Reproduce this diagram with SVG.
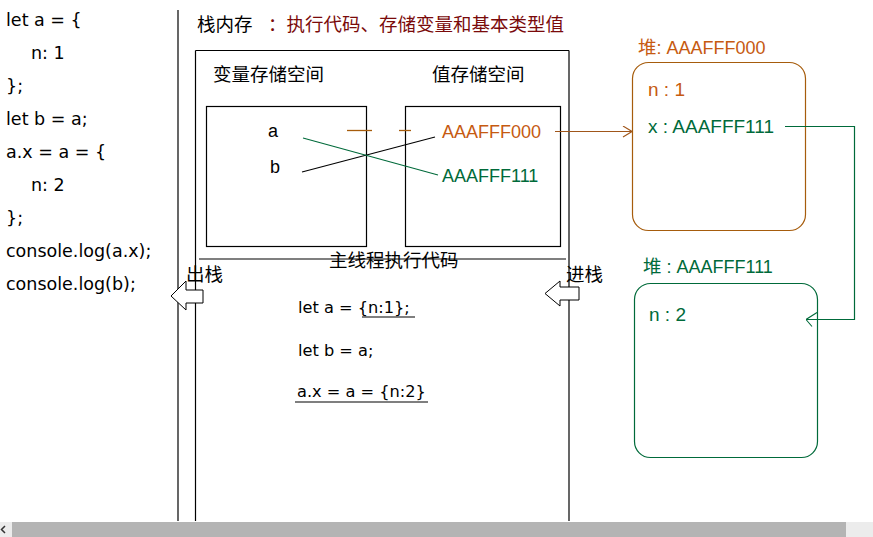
<svg xmlns="http://www.w3.org/2000/svg" width="873" height="537" viewBox="0 0 873 537">
<style>
.code{font-family:"DejaVu Sans","Noto Sans CJK SC",sans-serif;font-size:17.5px;fill:#000}
.cn{font-family:"Noto Sans CJK SC","DejaVu Sans",sans-serif;font-size:18.5px;fill:#000}
.lat{font-family:"Liberation Sans","Noto Sans CJK SC",sans-serif;font-size:18px}
.ln{stroke:#000;stroke-width:1.2;fill:none}
.org{fill:#c65a11}
.grn{fill:#006a3a}
</style>
<defs>
<marker id="arrO" viewBox="0 0 10 12" refX="10" refY="6" markerWidth="10" markerHeight="12" markerUnits="userSpaceOnUse" orient="auto">
<path d="M1,0.5 L10,6 L1,11.5" fill="none" stroke="#a0561a" stroke-width="1.1"/>
</marker>
<marker id="arrG" viewBox="0 0 12 16" refX="12" refY="8" markerWidth="12" markerHeight="16" markerUnits="userSpaceOnUse" orient="auto">
<path d="M6,1 L12,8 L1,15" fill="none" stroke="#006a3a" stroke-width="1.1"/>
</marker>
</defs>
<rect width="873" height="537" fill="#fff"/>

<g id="source-code">
<text class="code" x="6" y="26">let a = {</text>
<text class="code" x="31" y="59">n: 1</text>
<text class="code" x="6" y="92">};</text>
<text class="code" x="6" y="125">let b = a;</text>
<text class="code" x="6" y="158">a.x = a = {</text>
<text class="code" x="31" y="191">n: 2</text>
<text class="code" x="6" y="224">};</text>
<text class="code" x="6" y="257">console.log(a.x);</text>
<text class="code" x="6" y="290">console.log(b);</text>
</g>

<g id="stack">
<line class="ln" x1="178" y1="10" x2="178" y2="521"/>
<line class="ln" x1="195.5" y1="50.5" x2="195.5" y2="521"/>
<line class="ln" x1="569" y1="50.5" x2="569" y2="521"/>
<line class="ln" x1="195.5" y1="50.5" x2="569" y2="50.5"/>
<text class="cn" x="197" y="31">栈内存<tspan x="268" fill="#7a0a0a">：执行代码、存储变量和基本类型值</tspan></text>
</g>

<g id="var-space">
<text class="cn" x="213" y="81">变量存储空间</text>
<rect class="ln" x="206.5" y="106.5" width="160" height="140"/>
<text class="lat" x="268" y="137" fill="#000">a</text>
<text class="lat" x="270" y="173" fill="#000">b</text>
</g>

<g id="value-space">
<text class="cn" x="432" y="81">值存储空间</text>
<rect class="ln" x="405.5" y="106.5" width="155" height="140"/>
<text class="lat org" x="442" y="138">AAAFFF000</text>
<text class="lat grn" x="442" y="182">AAAFFF111</text>
</g>

<g id="main-thread">
<line class="ln" x1="199" y1="259" x2="566" y2="259"/>
<text class="cn" x="329" y="267">主线程执行代码</text>
<text class="code" x="298" y="313" style="font-size:16.2px">let a = {n:1};</text>
<line class="ln" x1="362" y1="317" x2="415" y2="317"/>
<text class="code" x="298" y="356" style="font-size:16.2px">let b = a;</text>
<text class="code" x="297" y="397" style="font-size:16.2px">a.x = a = {n:2}</text>
<line class="ln" x1="295" y1="402" x2="428" y2="402"/>
</g>

<g id="pop">
<text class="cn" x="186" y="281">出栈</text>
<polygon points="171,296 186,281 186,290 203,290 203,303 186,303 186,310" fill="#fff" stroke="#000" stroke-width="1"/>
</g>

<g id="push">
<text class="cn" x="566" y="281">进栈</text>
<polygon points="545,293.5 560,281 560,287 579,287 579,300 560,300 560,306" fill="#fff" stroke="#000" stroke-width="1"/>
</g>

<g id="heap-000">
<text class="lat org" x="638" y="54"><tspan font-family="Noto Sans CJK SC" font-size="18.5">堆</tspan>: AAAFFF000</text>
<rect x="632.5" y="62.5" width="173" height="168" rx="16" fill="none" stroke="#a65c0c" stroke-width="1.2"/>
<text class="lat org" x="648" y="96" style="font-size:19px">n : 1</text>
<text class="lat grn" x="648" y="133" style="font-size:19px">x : AAAFFF111</text>
</g>

<g id="heap-111">
<text class="lat grn" x="643" y="273"><tspan font-family="Noto Sans CJK SC" font-size="18.5">堆</tspan> : AAAFFF111</text>
<rect x="634.5" y="283.5" width="183" height="174" rx="16" fill="none" stroke="#006a3a" stroke-width="1.2"/>
<text class="lat grn" x="649" y="321" style="font-size:19px">n : 2</text>
</g>

<g id="connectors">
<line x1="302" y1="172" x2="435" y2="137" stroke="#000" stroke-width="1.1"/>
<line x1="303" y1="138" x2="438" y2="175" stroke="#006a3a" stroke-width="1.1"/>
<line x1="347" y1="130.5" x2="372" y2="130.5" stroke="#a65c0c" stroke-width="1.3"/>
<line x1="399" y1="130.5" x2="411" y2="130.5" stroke="#a65c0c" stroke-width="1.3"/>
<line x1="555" y1="131.5" x2="632" y2="131.5" stroke="#a0561a" stroke-width="1.2" marker-end="url(#arrO)"/>
<polyline points="785,126.5 854.5,126.5 854.5,319.5 806,319.5" fill="none" stroke="#006a3a" stroke-width="1.2" marker-end="url(#arrG)"/>
</g>

<g id="scrollbar">
<rect x="0" y="522" width="873" height="15" fill="#ececec"/>
<rect x="12" y="522" width="834" height="15" fill="#b4b4b4"/>
<path d="M5,526 L1.5,529.5 L5,533" fill="none" stroke="#333" stroke-width="1.5"/>
</g>
</svg>
